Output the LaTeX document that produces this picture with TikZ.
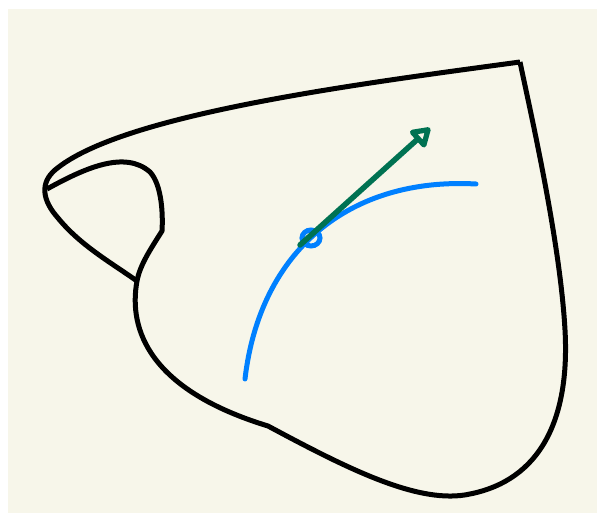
\documentclass[tikz,border=0pt]{standalone}
\usepackage{xcolor}
\usepackage{tikz}
\usetikzlibrary{arrows.meta}

\definecolor{bakgrunn}{RGB}{247,246,234}
\definecolor{kurveblaa}{RGB}{0,128,255}
\definecolor{pilgronn}{RGB}{0,114,82}

\begin{document}
\begin{tikzpicture}[x=1pt, y=-1pt,
	omriss/.style={draw=black, line width=5pt, line join=round},
	kurve/.style={draw=kurveblaa, line width=5pt, line cap=round},
	pil/.style={draw=pilgronn, line width=5.5pt, line cap=round,
		-{Triangle[open, length=21pt, width=25pt, line join=round]}}]
	\useasboundingbox (0,0) rectangle (603,513);
	\fill[bakgrunn] (8,9) rectangle (597,513);

	%Punktene her
	\coordinate (1) at (520,62);
	\coordinate (2) at (55,170);
	\coordinate (3) at (47,189);
	\coordinate (4) at (137,281);
	\coordinate (5) at (162,231);
	\coordinate (6) at (268,426);
	\coordinate (7) at (470,494);
	\coordinate (8) at (565,330);

	%Omrisset
	\draw[omriss] (1) .. controls (350,85) and (120,115) .. (2)
		.. controls (40,183) and (42,200) .. (58,218)
		.. controls (80,245) and (110,262) .. (4);
	\draw[omriss] (3) .. controls (85,168) and (125,150) .. (150,172)
		.. controls (162,185) and (163,215) .. (5)
		.. controls (150,250) and (140,265) .. (4)
		.. controls (128,330) and (150,390) .. (6)
		.. controls (350,470) and (420,505) .. (7)
		.. controls (540,480) and (570,420) .. (8)
		.. controls (560,240) and (530,110) .. (1);

	%Kurven og punktet
	\coordinate (a) at (245,379);
	\coordinate (b) at (476,184);
	\coordinate (p) at (311,238);
	\draw[kurve] (a) .. controls (260,250) and (350,177) .. (b);
	\draw[kurve] (p) ellipse [x radius=9pt, y radius=8pt];

	%Pilen
	\coordinate (start) at (300,245);
	\coordinate (spiss) at (430,128);
	\draw[pil] (start) -- (spiss);
\end{tikzpicture}
\end{document}
